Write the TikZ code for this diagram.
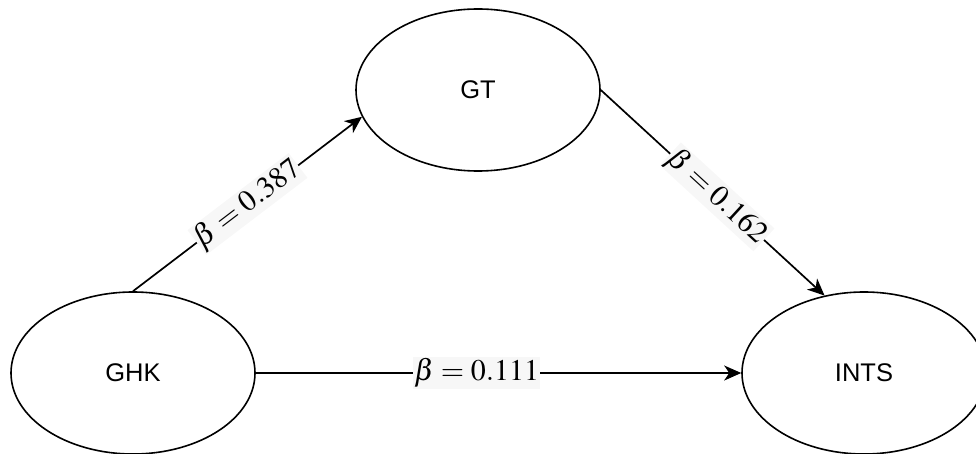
\documentclass[tikz,border=0pt]{standalone}
\usepackage{mathptmx}
\usepackage{fontspec}
\setmainfont{Liberation Sans}
\usepackage{tikz}
\usetikzlibrary{arrows.meta,shapes.geometric,positioning}
\tikzstyle{construct}=[draw,fill=white,ellipse,line width=1.6pt,minimum width=244pt,minimum height=162pt,inner sep=0pt,font=\fontsize{25.5}{26}\selectfont]
\tikzstyle{coef}=[fill=white!97!black,inner sep=1pt,sloped,font=\fontsize{30}{30}\selectfont]

\begin{document}
\begin{tikzpicture}[x=1pt,y=-1pt,
every edge/.style = {draw, -{Stealth[length=17pt,width=15pt,inset=5pt]}, line width=1.7pt}]
\useasboundingbox (0,0) rectangle (976,454);
\node [construct] (ghk) at (133,373) {GHK};
\node [construct] (gt) at (478,90) {GT};
\node [construct] (ints) at (864,373) {INTS};
\path (ghk.north) edge node[coef,pos=0.5] {$\beta = 0.387$} (gt.193);
\path (gt.east) edge node[coef,pos=0.52] {$\beta = 0.162$} (ints.117);
\path (ghk.east) edge node[coef,pos=0.455] {$\beta = 0.111$} (ints.west);
\end{tikzpicture}
\end{document}
